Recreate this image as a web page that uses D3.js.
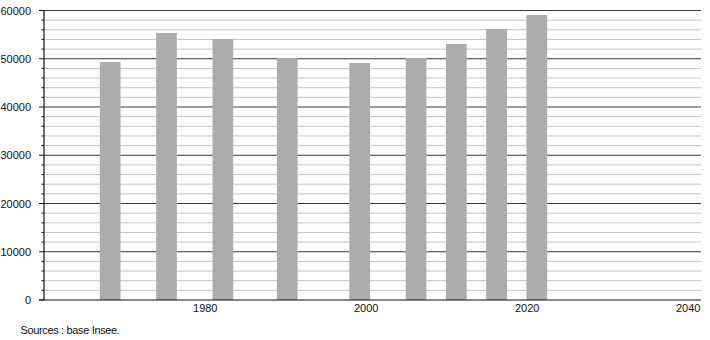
<!DOCTYPE html>
<html><head><meta charset="utf-8">
<script src="https://cdn.jsdelivr.net/npm/d3@7"></script>
<style>body{margin:0;background:#fff}svg{display:block}text{font-family:"Liberation Sans",Arial,sans-serif;font-size:11px;fill:#111}</style>
</head><body><svg id="c" width="710" height="340"></svg>
<script>
const years = [1968, 1975, 1982, 1990, 1999, 2006, 2011, 2016, 2021];
const population = [49330, 55340, 54090, 50160, 49120, 50160, 53060, 56170, 59070];
const xTicks = [1980, 2000, 2020, 2040];
const yTicks = [0, 10000, 20000, 30000, 40000, 50000, 60000];
const source = "Sources : base Insee.";

const svg = d3.select("#c");
const L = 44, R = 701, T = 10.5, B = 300;
const x = d3.scaleLinear().domain([1959.78, 2041.4]).range([L, R]);
const y = d3.scaleLinear().domain([0, 60000]).range([B, T]);
const minor = d3.range(0, 60001, 2000).filter(v => v % 10000 !== 0);

svg.append("g").selectAll("line").data(minor).join("line")
  .attr("x1", L).attr("x2", R).attr("y1", d => y(d)).attr("y2", d => y(d))
  .attr("stroke", "#c4c4c4").attr("stroke-width", 1);
svg.append("g").selectAll("line").data(yTicks.filter(v => v > 0)).join("line")
  .attr("x1", L).attr("x2", R).attr("y1", d => y(d)).attr("y2", d => y(d))
  .attr("stroke", "#3a3a3a").attr("stroke-width", 1);

const bw = 20.7;
svg.append("g").selectAll("rect").data(years).join("rect")
  .attr("x", d => x(d) - bw / 2).attr("width", bw)
  .attr("y", (d, i) => y(population[i])).attr("height", (d, i) => B - y(population[i]))
  .attr("fill", "#acacac");

// y axis
svg.append("line").attr("x1", L).attr("x2", L).attr("y1", T).attr("y2", B).attr("stroke", "#111").attr("stroke-width", 1.2);
svg.append("g").selectAll("line").data(minor).join("line")
  .attr("x1", L - 2.5).attr("x2", L).attr("y1", d => y(d)).attr("y2", d => y(d)).attr("stroke", "#111");
svg.append("g").selectAll("line").data(yTicks).join("line")
  .attr("x1", L - 5).attr("x2", L).attr("y1", d => y(d)).attr("y2", d => y(d)).attr("stroke", "#111");
svg.append("g").selectAll("text").data(yTicks).join("text")
  .attr("x", 31).attr("y", d => y(d) + 4).attr("text-anchor", "end").text(d => d);

// x axis
svg.append("line").attr("x1", L - 5).attr("x2", R).attr("y1", B).attr("y2", B).attr("stroke", "#111").attr("stroke-width", 1.2);
svg.append("g").selectAll("text").data(xTicks).join("text")
  .attr("x", d => x(d) - 1.5).attr("y", 312).attr("text-anchor", "middle").text(d => d);

svg.append("text").attr("x", 20.5).attr("y", 334).attr("letter-spacing", "-0.35px").text(source);
</script></body></html>
